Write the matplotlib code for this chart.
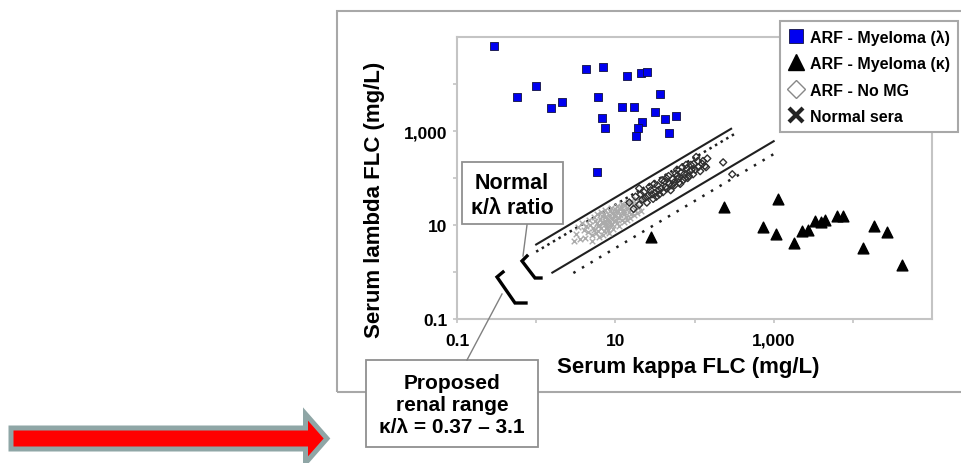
import matplotlib
matplotlib.use("Agg")
import matplotlib.pyplot as plt
from matplotlib.lines import Line2D
from matplotlib.patches import Rectangle, Polygon
from matplotlib.ticker import FixedLocator, NullFormatter

plt.rcParams['font.family'] = ['Liberation Sans', 'DejaVu Sans']
plt.rcParams['font.weight'] = 'bold'

# --- data (mg/L) ---
# ARF - Myeloma (lambda)
lam_kappa = [0.29, 0.57, 1.0, 1.55, 2.1, 4.2, 7.0, 6.1, 6.8, 7.3, 14, 21, 25, 12.3,
             17, 37, 32, 43, 59, 22, 19.5, 18.5, 48, 5.8]
lam_lambda = [64500, 5300, 9100, 3100, 4150, 21000, 23000, 5300, 1900, 1150, 14800,
              17000, 18000, 3250, 3250, 6100, 2550, 1800, 2100, 1550, 1150, 780, 910, 134]

# ARF - Myeloma (kappa)
kap_kappa = [28.6, 233, 1150, 725, 1060, 1790, 2250, 2700, 3300, 3940, 4420, 6300,
             7450, 18500, 13400, 27000, 41700]
kap_lambda = [5.6, 24, 36, 9.1, 6.4, 4.1, 7.5, 7.8, 12.2, 11.5, 12.8, 15.6, 15.6,
              9.5, 3.2, 7.1, 1.4]

# Normal sera
norm_kappa = [3.2, 3.6, 4.0, 4.1, 4.5, 4.8, 5.0, 5.2, 5.5, 5.7, 6.0, 6.1, 6.4, 6.6,
              6.9, 7.1, 7.3, 7.6, 7.8, 8.0, 8.3, 8.5, 8.8, 9.0, 9.3, 9.6, 10.0, 10.4,
              10.8, 11.2, 11.6, 12.0, 12.5, 13.0, 13.6, 14.2, 15.0, 15.8, 16.5, 17.5,
              18.5, 20.0, 4.3, 5.9, 6.8, 7.4, 8.1, 9.1, 10.2, 11.9,
              3.0, 3.4, 3.8, 4.6, 5.1, 5.3, 5.8, 6.2, 6.5, 6.7, 7.0, 7.2, 7.5, 7.9,
              8.2, 8.6, 8.9, 9.4, 9.8, 10.1, 10.6, 11.0, 11.4, 12.2, 12.8, 13.3, 14.0,
              14.6, 15.4, 16.0, 17.0, 18.0, 19.0, 21.0, 22.0, 5.4, 6.3, 7.7, 9.5, 12.7]
norm_lambda = [6.5, 5.0, 8.0, 5.2, 7.0, 10.0, 6.0, 8.5, 12.0, 6.8, 9.5, 7.5, 13.5, 8.8,
               11.0, 7.6, 14.5, 10.5, 9.0, 12.5, 16.0, 11.5, 9.8, 14.0, 18.0, 12.0, 15.5,
               11.0, 19.5, 14.0, 16.5, 13.0, 21.0, 17.0, 15.0, 23.0, 19.0, 17.5, 26.0,
               21.0, 30.0, 24.0, 9.5, 11.0, 15.5, 12.0, 7.9, 10.5, 20.0, 24.0,
               4.5, 9.0, 11.0, 12.5, 4.6, 15.0, 17.0, 5.5, 19.0, 11.5, 6.2, 17.5, 21.0,
               13.5, 6.9, 19.5, 23.0, 8.2, 21.5, 13.0, 25.0, 9.5, 22.0, 28.0, 11.5, 26.0,
               12.5, 31.0, 14.0, 33.0, 16.0, 36.0, 18.0, 20.0, 34.0, 7.8, 10.2, 8.5,
               16.5, 19.0]

# ARF - No MG
nomg_kappa = [15, 17, 18, 20, 22, 23, 25, 26, 28, 30, 32, 34, 36, 38, 40, 42, 45, 48,
              50, 53, 56, 60, 64, 68, 72, 76, 80, 85, 90, 96, 102, 110, 118, 125, 135,
              145, 21, 27, 33, 44, 55, 70, 88, 60, 105, 230, 300,
              20, 24, 29, 31, 35, 39, 43, 47, 52, 58, 62, 66, 74, 78, 82, 92, 98, 112,
              128, 140]
nomg_lambda = [30, 22, 40, 27, 35, 50, 30, 42, 55, 36, 48, 70, 45, 60, 50, 85, 60, 75,
               55, 95, 70, 110, 80, 130, 90, 100, 160, 110, 190, 120, 150, 230, 140, 200,
               180, 260, 45, 65, 40, 100, 80, 170, 140, 150, 280, 215, 120,
               60, 38, 45, 75, 55, 90, 65, 110, 70, 125, 95, 75, 120, 190, 100, 150, 200,
               170, 230, 170]

# kappa/lambda ratio lines: normal 0.26-1.65, renal 0.37-3.1
ratio_vals = [0.26, 0.37, 1.65, 3.1]
ratio_kmin = [1.0, 1.0, 1.6, 2.95]
ratio_kmax = [290, 320, 1000, 1000]
ratio_dotted = [False, True, False, True]

W, H = 962, 464


def fx(x):
    return x / W


def fy(y):
    return 1 - y / H


fig = plt.figure(figsize=(W / 100, H / 100), dpi=100)

# outer frame
fig.add_artist(Rectangle((fx(337), fy(393)), fx(1000) - fx(337), fy(12) - fy(393),
                         transform=fig.transFigure, fill=False, ec='#a8a8a8',
                         lw=1.5, zorder=0))

ax = fig.add_axes([fx(457), fy(320), (932 - 457) / W, (320 - 38) / H])
ax.set_xscale('log')
ax.set_yscale('log')
ax.set_xlim(0.1, 1e5)
ax.set_ylim(0.1, 1e5)

for sp in ax.spines.values():
    sp.set_color('#c4c4c4')
    sp.set_linewidth(1.5)

ax.xaxis.set_major_locator(FixedLocator([0.1, 10, 1000]))
ax.yaxis.set_major_locator(FixedLocator([0.1, 10, 1000]))
ax.set_xticklabels(['0.1', '10', '1,000'])
ax.set_yticklabels(['0.1', '10', '1,000'])
for axis in (ax.xaxis, ax.yaxis):
    axis.set_minor_locator(FixedLocator([1, 100, 1e4]))
    axis.set_minor_formatter(NullFormatter())
ax.tick_params(which='both', direction='out', length=3, color='#c4c4c4', width=1.2)
ax.tick_params(axis='x', labelsize=12.5, pad=7)
ax.tick_params(axis='y', labelsize=12.5, pad=4)

# ratio lines
for r, k0, k1, dot in zip(ratio_vals, ratio_kmin, ratio_kmax, ratio_dotted):
    ks = [k0, k1]
    ls = [k / r for k in ks]
    if dot:
        pat = (0, (1, 1.6)) if r < 1 else (0, (1, 3))
        ax.plot(ks, ls, color='#202020', lw=1.8, ls=pat, zorder=2)
    else:
        ax.plot(ks, ls, color='#202020', lw=1.5, zorder=2)

ax.scatter(norm_kappa, norm_lambda, marker='x', s=16, color='#ababab', lw=1.0, zorder=3)
ax.scatter(nomg_kappa, nomg_lambda, marker='D', s=13, facecolor='none',
           edgecolor='#303030', lw=1.0, zorder=3)
ax.scatter(lam_kappa, lam_lambda, marker='s', s=40, color='#0000f0',
           edgecolor='#101040', lw=0.6, zorder=4)
ax.scatter(kap_kappa, kap_lambda, marker='^', s=60, color='black', zorder=4)

fig.text(fx(688), fy(368), 'Serum kappa FLC (mg/L)', ha='center', va='center',
         fontsize=16)
fig.text(fx(375), fy(200), 'Serum lambda FLC (mg/L)', ha='center', va='center',
         fontsize=16, rotation=90)

# legend
handles = [
    Line2D([], [], ls='none', marker='s', ms=10, color='#0000f0', mec='#101040', mew=0.6),
    Line2D([], [], ls='none', marker='^', ms=11, color='black'),
    Line2D([], [], ls='none', marker='D', ms=9, mfc='white', mec='#888888', mew=1.0),
    Line2D([], [], ls='none', marker='x', ms=10, color='#222222', mew=3),
]
labels = ['ARF - Myeloma (λ)', 'ARF - Myeloma (κ)', 'ARF - No MG', 'Normal sera']
leg = fig.legend(handles, labels, loc='upper left', bbox_to_anchor=(fx(780), fy(22)),
                 frameon=True, fancybox=False, edgecolor='#a8a8a8', framealpha=1,
                 borderaxespad=0, prop={'size': 11.5, 'weight': 'bold'},
                 handlelength=1.0, handletextpad=0.4, labelspacing=0.72, borderpad=0.5)
leg.get_frame().set_linewidth(1.5)

# annotation boxes
fig.add_artist(Rectangle((fx(462), fy(225)), fx(563) - fx(462), fy(163) - fy(225),
                         transform=fig.transFigure, fc='white', ec='#909090',
                         lw=1.3, zorder=5))
fig.text(fx(512), fy(196), 'Normal\nκ/λ ratio', ha='center', va='center',
         fontsize=15.5, linespacing=1.25, zorder=6)
fig.add_artist(Rectangle((fx(366), fy(448)), fx(538) - fx(366), fy(361) - fy(448),
                         transform=fig.transFigure, fc='white', ec='#909090',
                         lw=1.3, zorder=5))
fig.text(fx(452), fy(406), 'Proposed\nrenal range\nκ/λ = 0.37 – 3.1', ha='center',
         va='center', fontsize=15, linespacing=1.2, zorder=6)

# leader lines
fig.add_artist(Line2D([fx(527), fx(523)], [fy(226), fy(257)], transform=fig.transFigure,
                      color='#808080', lw=1.0, zorder=5))
fig.add_artist(Line2D([fx(502), fx(467)], [fy(295), fy(361)], transform=fig.transFigure,
                      color='#808080', lw=1.0, zorder=5))

# brackets
for pts in ([(527, 257), (522, 262), (535, 279), (541, 279)],
            [(503, 273), (497, 278), (515, 304), (526, 304)]):
    fig.add_artist(Line2D([fx(p[0]) for p in pts], [fy(p[1]) for p in pts],
                          transform=fig.transFigure, color='black', lw=2.4,
                          solid_joinstyle='miter', zorder=5))

# red arrow
arrow_px = [(11, 429), (305.5, 429), (305.5, 415), (327, 439.5), (305.5, 464),
            (305.5, 450), (11, 450)]
fig.add_artist(Polygon([(fx(x), fy(y)) for x, y in arrow_px], closed=True,
                       transform=fig.transFigure, fc='#ff0000', ec='#8fa6a6',
                       lw=3.6, joinstyle='miter', zorder=5))

fig.savefig('out.png', dpi=100)
